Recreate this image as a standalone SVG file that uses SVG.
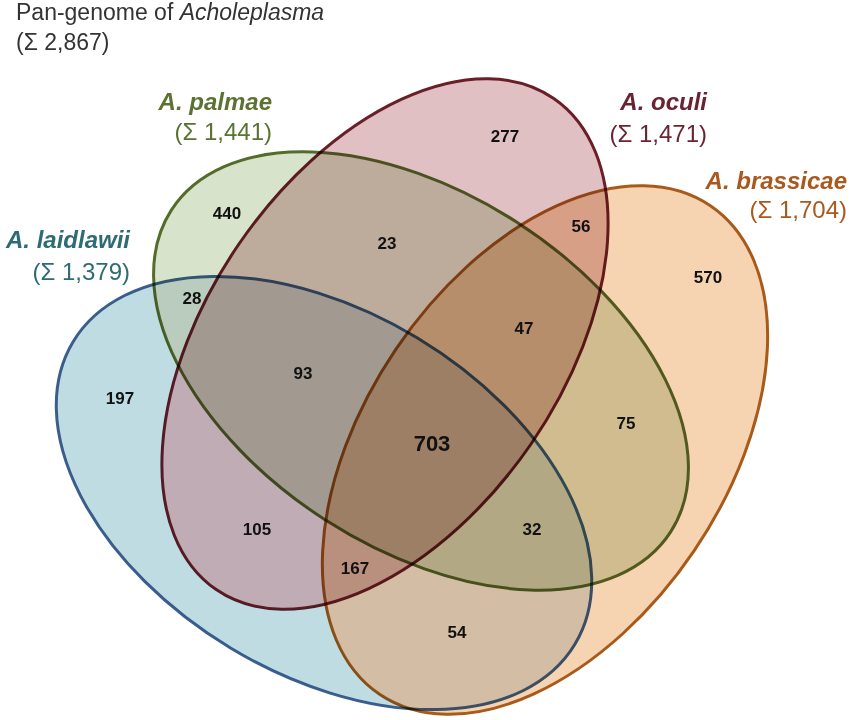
<svg xmlns="http://www.w3.org/2000/svg" width="850" height="720" viewBox="0 0 850 720">
<style>
.set { mix-blend-mode: multiply; stroke-width: 3; }
.num { font-family: "Liberation Sans", Arial, sans-serif; font-weight: bold; font-size: 17px; text-anchor: middle; fill: #111; }
.name { font-family: "Liberation Sans", Arial, sans-serif; font-weight: bold; font-style: italic; font-size: 24px; text-anchor: end; }
.sum { font-family: "Liberation Sans", Arial, sans-serif; font-size: 24px; text-anchor: end; }
.title { font-family: "Liberation Sans", Arial, sans-serif; font-size: 23px; fill: #333; }
</style>
<defs>
  <mask id="blueOnly" maskUnits="userSpaceOnUse" x="0" y="0" width="850" height="720">
    <ellipse cx="324" cy="493" rx="293" ry="181" transform="rotate(31.1 324 493)" fill="#fff"/>
    <ellipse cx="421" cy="371" rx="297" ry="177" transform="rotate(32.8 421 371)" fill="#000"/>
    <ellipse cx="385" cy="344" rx="298" ry="177" transform="rotate(-55.5 385 344)" fill="#000"/>
    <ellipse cx="545" cy="450" rx="295" ry="180" transform="rotate(-55.9 545 450)" fill="#000"/>
  </mask>
</defs>
<rect width="850" height="720" fill="#ffffff"/>
<g id="title">
  <text class="title" x="16" y="20">Pan-genome of <tspan font-style="italic">Acholeplasma</tspan></text>
  <text class="title" x="16" y="50">(Σ 2,867)</text>
</g>
<g id="laidlawii">
  <ellipse class="set" cx="324" cy="493" rx="293" ry="181" transform="rotate(31.1 324 493)" fill="#dbe5ed" stroke="#3d5f8f"/>
  <rect width="850" height="720" fill="#e0f5f5" mask="url(#blueOnly)" style="mix-blend-mode:multiply"/>
  <text class="name" x="130" y="248" fill="#2f6b76">A. laidlawii</text>
  <text class="sum" x="130" y="280" fill="#2f6b76">(Σ 1,379)</text>
</g>
<g id="palmae">
  <ellipse class="set" cx="421" cy="371" rx="297" ry="177" transform="rotate(32.8 421 371)" fill="#d8e3cc" stroke="#556b2a"/>
  <text class="name" x="272" y="110" fill="#5b7233">A. palmae</text>
  <text class="sum" x="272" y="140" fill="#5b7233">(Σ 1,441)</text>
</g>
<g id="oculi">
  <ellipse class="set" cx="385" cy="344" rx="298" ry="177" transform="rotate(-55.5 385 344)" fill="#e0c0c2" stroke="#6a1e28"/>
  <text class="name" x="707" y="110" fill="#6b2331">A. oculi</text>
  <text class="sum" x="707" y="142" fill="#6b2331">(Σ 1,471)</text>
</g>
<g id="brassicae">
  <ellipse class="set" cx="545" cy="450" rx="295" ry="180" transform="rotate(-55.9 545 450)" fill="#f6d4b2" stroke="#a85a1a"/>
  <text class="name" x="847" y="189" fill="#a9591d">A. brassicae</text>
  <text class="sum" x="847" y="218" fill="#a9591d">(Σ 1,704)</text>
</g>
<g id="counts">
  <text class="num" x="505" y="142">277</text>
  <text class="num" x="227" y="219">440</text>
  <text class="num" x="387" y="249">23</text>
  <text class="num" x="581" y="232">56</text>
  <text class="num" x="708" y="283">570</text>
  <text class="num" x="192" y="304">28</text>
  <text class="num" x="524" y="334">47</text>
  <text class="num" x="303" y="379">93</text>
  <text class="num" x="120" y="404">197</text>
  <text class="num" x="626" y="429">75</text>
  <text class="num" x="432" y="451" style="font-size:22px">703</text>
  <text class="num" x="257" y="535">105</text>
  <text class="num" x="532" y="535">32</text>
  <text class="num" x="355" y="574">167</text>
  <text class="num" x="457" y="638">54</text>
</g>
</svg>
